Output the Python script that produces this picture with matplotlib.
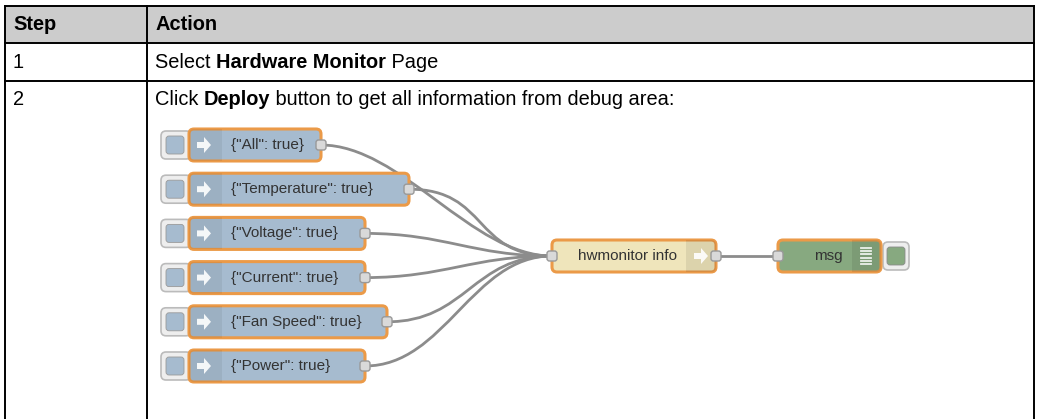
import math
import matplotlib
matplotlib.use("Agg")
import matplotlib.pyplot as plt
from matplotlib.patches import FancyBboxPatch, Rectangle, PathPatch, Polygon
from matplotlib.path import Path

plt.rcParams['font.family'] = ['Liberation Sans', 'DejaVu Sans']

# table content
headers = ["Step", "Action"]
steps = ["1", "2"]
actions = [
    [("Select ", "normal"), ("Hardware Monitor", "bold"), (" Page", "normal")],
    [("Click ", "normal"), ("Deploy", "bold"),
     (" button to get all information from debug area:", "normal")],
]

# flow content
inject_labels = ['{"All": true}', '{"Temperature": true}', '{"Voltage": true}',
                 '{"Current": true}', '{"Fan Speed": true}', '{"Power": true}']
func_label = "hwmonitor info"
debug_label = "msg"

# colours
INJECT = "#a6bbcf"
FUNC = "#efe5bb"
DEBUG = "#87a980"
SEL = "#eb9a48"
WIRE = "#8c8c8c"

W, H = 1037, 419
fig = plt.figure(figsize=(W / 100, H / 100), dpi=100)
ax = fig.add_axes([0, 0, 1, 1])
ax.set_xlim(0, W)
ax.set_ylim(H, 0)
ax.axis("off")

# ---- table ----
left, mid, right = 5, 147, 1034
top, hdr_bot, row1_bot = 6, 43, 81
ax.add_patch(Rectangle((left, top), right - left, hdr_bot - top, fc="#cccccc", ec="none"))
lw = 1.4
for y in (top, hdr_bot, row1_bot):
    ax.plot([left, right], [y, y], color="black", lw=lw, solid_capstyle="projecting")
for x in (left, mid, right):
    ax.plot([x, x], [top, H + 2], color="black", lw=lw)

TFS = 14.4
fig.canvas.draw()
rend = fig.canvas.get_renderer()


def text_w(t):
    bb = t.get_window_extent(renderer=rend)
    return bb.width


def rich(x, y, parts, size):
    for s, wt in parts:
        t = ax.text(x, y, s, fontsize=size, fontweight=wt, va="center", ha="left")
        x += text_w(t)


ax.text(13, 25, headers[0], fontsize=TFS, fontweight="bold", va="center")
ax.text(155, 25, headers[1], fontsize=TFS, fontweight="bold", va="center")
row_y = [62, 99]
for yy, st, act in zip(row_y, steps, actions):
    ax.text(13, yy, st, fontsize=TFS, va="center")
    rich(155, yy, act, TFS)

# ---- flow ----
NH = 32
LFS = 11


def node_box(x, y, w, color):
    p = FancyBboxPatch((x, y - NH / 2), w, NH, boxstyle="round,pad=0,rounding_size=5",
                       fc=color, ec=SEL, lw=2.2, zorder=3)
    ax.add_patch(p)
    return p


def port(x, y):
    ax.add_patch(FancyBboxPatch((x - 5, y - 5), 10, 10, boxstyle="round,pad=0,rounding_size=2.5",
                                fc="#d9d9d9", ec="#999999", lw=1, zorder=5))


def button(x, y, color):
    ax.add_patch(FancyBboxPatch((x, y - 14), 30, 28, boxstyle="round,pad=0,rounding_size=5",
                                fc="#eeeeee", ec="#bbbbbb", lw=1.2, zorder=2))
    ax.add_patch(FancyBboxPatch((x + 5, y - 9), 18, 18, boxstyle="round,pad=0,rounding_size=3",
                                fc=color, ec="#9a9a9a", lw=0.6, zorder=2.5))


def wire(x1, y1, x2, y2):
    d = 80
    verts = [(x1, y1), (x1 + d, y1), (x2 - d, y2), (x2, y2)]
    codes = [Path.MOVETO, Path.CURVE4, Path.CURVE4, Path.CURVE4]
    ax.add_patch(PathPatch(Path(verts, codes), fc="none", ec=WIRE, lw=2.0, zorder=1))


def arrow_icon(cx, cy, s=1.0):
    pts = [(-7, -3), (0, -3), (0, -8), (7, 0), (0, 8), (0, 3), (-7, 3)]
    ax.add_patch(Polygon([(cx + s * a, cy + s * b) for a, b in pts], closed=True,
                         fc="white", ec="none", alpha=0.9, zorder=4))


func_x, func_w = 552, 164
func_y = 256
debug_x, debug_w = 778, 103

nx = 189
row0, gap = 145, 44.2
for i, lab in enumerate(inject_labels):
    y = row0 + i * gap
    t = ax.text(nx + 42, y, lab, fontsize=LFS, va="center", ha="left", color="#333333", zorder=6)
    tw = text_w(t)
    # node width snapped to a grid like the editor does
    w = max(110, math.ceil((tw + 58) / 22) * 22)
    wire(nx + w, y, func_x, func_y)
    button(161, y, INJECT)
    p = node_box(nx, y, w, INJECT)
    r = Rectangle((nx, y - NH / 2), 33, NH, fc="#000000", alpha=0.06, ec="none", zorder=3.5)
    ax.add_patch(r)
    r.set_clip_path(p)
    arrow_icon(nx + 15, y, 1.0)
    port(nx + w, y)

# function node
p = node_box(func_x, func_y, func_w, FUNC)
r = Rectangle((func_x + func_w - 30, func_y - NH / 2), 30, NH, fc="#000000", alpha=0.08, ec="none", zorder=3.5)
ax.add_patch(r)
r.set_clip_path(p)
arrow_icon(func_x + func_w - 15, func_y, 1.0)
ax.text(func_x + func_w - 39, func_y, func_label, fontsize=LFS, va="center", ha="right",
        color="#333333", zorder=6)
port(func_x, func_y)
port(func_x + func_w, func_y)

# debug node
ax.plot([func_x + func_w, debug_x], [func_y, func_y], color=WIRE, lw=2.0, zorder=1)
p = node_box(debug_x, func_y, debug_w, DEBUG)
r = Rectangle((debug_x + debug_w - 29, func_y - NH / 2), 29, NH, fc="#000000", alpha=0.08, ec="none", zorder=3.5)
ax.add_patch(r)
r.set_clip_path(p)
for k in range(6):
    yy = func_y - 8 + k * 3.2
    ax.plot([debug_x + debug_w - 20, debug_x + debug_w - 10], [yy, yy], color="white", lw=1.3,
            alpha=0.85, zorder=4)
ax.text(debug_x + debug_w - 38, func_y, debug_label, fontsize=LFS, va="center", ha="right",
        color="#333333", zorder=6)
port(debug_x, func_y)
ax.add_patch(FancyBboxPatch((debug_x + debug_w + 2, func_y - 14), 26, 28,
                            boxstyle="round,pad=0,rounding_size=5",
                            fc="#eeeeee", ec="#bbbbbb", lw=1.2, zorder=2))
ax.add_patch(FancyBboxPatch((debug_x + debug_w + 6, func_y - 9), 18, 18,
                            boxstyle="round,pad=0,rounding_size=3",
                            fc=DEBUG, ec="#8a8a8a", lw=0.6, zorder=2.5))

fig.savefig("out.png", dpi=100)
